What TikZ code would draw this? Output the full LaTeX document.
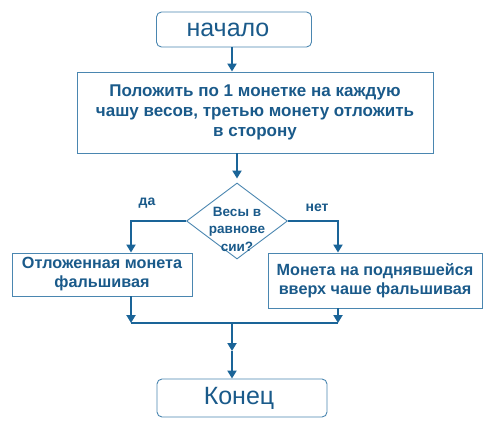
\documentclass[tikz,border=0pt]{standalone}
\usepackage{fontspec}
\setmainfont{Liberation Sans}
\usepackage{xcolor}
\definecolor{chart-line}{HTML}{1A6498}
\definecolor{chart-frame}{HTML}{4A86B0}
\definecolor{chart-text}{HTML}{1A5A8A}
\usetikzlibrary{arrows.meta, shapes.geometric}

\tikzset{
    terminal/.style={draw=chart-frame, line width=0.9pt, rounded corners=5pt, inner sep=0pt, text=chart-text, font=\fontsize{25}{28}\selectfont},
    process/.style={draw=chart-frame, line width=0.9pt, inner sep=0pt, align=center, text=chart-text, font=\bfseries\fontsize{16.2}{19}\selectfont},
    decision/.style={draw=chart-frame, line width=0.9pt, diamond, inner sep=0pt},
    flow/.style={draw=chart-line, line width=2.8pt, -{Triangle[width=9pt, length=8pt]}},
    busline/.style={draw=chart-line, line width=2.8pt},
    answer/.style={text=chart-text, font=\bfseries\fontsize{14}{16}\selectfont}
}

\begin{document}
\begin{tikzpicture}[x=1pt, y=-1pt]

    \useasboundingbox (0, 0) rectangle (489, 433);

    % Start
    \node[terminal, minimum width=155pt, minimum height=35pt] (start) at (234, 29.5) {\raisebox{-3pt}{начало}\hspace*{12pt}};

    % Weighing
    \node[process, minimum width=356pt, minimum height=81pt, font=\bfseries\fontsize{17}{20}\selectfont] (weigh) at (255, 112.5) {Положить по 1 монетке на каждую\\чашу весов, третью монету отложить\\в сторону};

    % Question
    \node[decision, minimum width=101pt, minimum height=76pt] (cond) at (237, 221) {};
    \node[align=center, inner sep=0pt, text=chart-text, font=\bfseries\fontsize{13.5}{17.5}\selectfont] (condtext) at (237, 229) {Весы в\\равнове\\сии?};

    % Outcomes
    \node[process, minimum width=180pt, minimum height=43pt] (aside) at (102, 274.5) {Отложенная монета\\фальшивая};
    \node[process, minimum width=214pt, minimum height=55pt] (raised) at (375, 280.5) {Монета на поднявшейся\\вверх чаше фальшивая};

    % End
    \node[terminal, minimum width=170pt, minimum height=38pt] (finish) at (242, 398) {\raisebox{-2pt}{Конец}\hspace*{6pt}};

    % Joints
    \coordinate (ljoin) at (131, 323);
    \coordinate (rjoin) at (338, 323);
    \coordinate (mjoin) at (232, 323);
    \coordinate (mid) at (232, 351);

    % Labels
    \node[answer] (yes) at (147, 203) {да};
    \node[answer] (no) at (317, 208) {нет};

    % Arrows
    \draw[flow] (start.south -| mjoin) -- (weigh.north -| mjoin);
    \draw[flow, shorten >=4pt] (cond.north |- weigh.south) -- (cond.north);
    \draw[flow] (cond.west) -| (ljoin |- aside.north);
    \draw[flow] (cond.east) -| (rjoin |- raised.north);
    \draw[flow] (ljoin |- aside.south) -- (ljoin);
    \draw[flow] (rjoin |- raised.south) -- (rjoin);
    \draw[busline] (ljoin) -- (rjoin);
    \draw[flow] (mjoin) -- (mid);
    \draw[flow] (mid) -- (mjoin |- finish.north);

\end{tikzpicture}
\end{document}
